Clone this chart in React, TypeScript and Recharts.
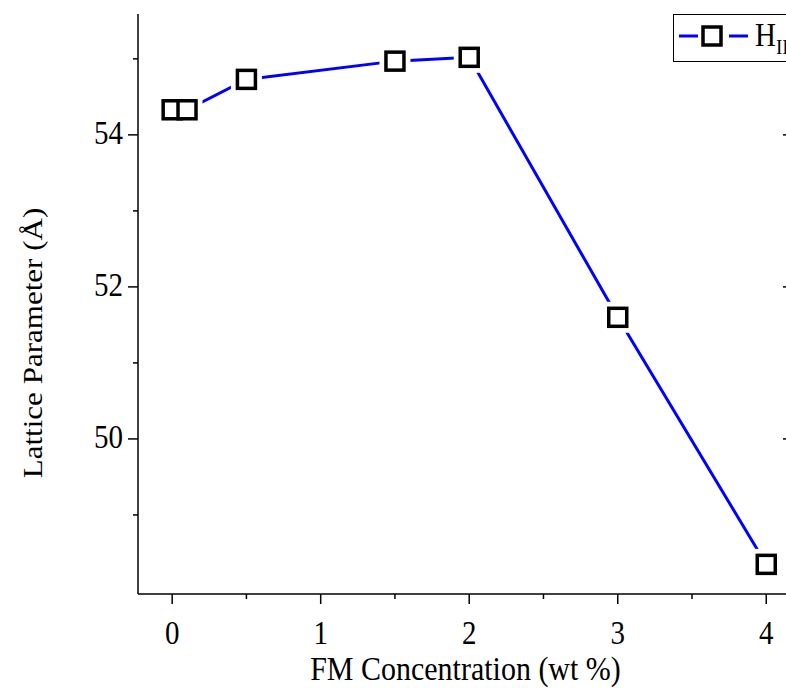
import React from 'react'
import { LineChart, Line, XAxis, YAxis, Legend } from 'recharts'

// FM concentration (wt %) and the measured H_II lattice parameter (Å)
const concentration = [0, 0.1, 0.5, 1.5, 2, 3, 4]
const latticeParam = [54.33, 54.33, 54.73, 54.97, 55.02, 51.6, 48.35]

const xTicks = [0, 0.5, 1, 1.5, 2, 2.5, 3, 3.5, 4]
const yTicks = [49, 50, 51, 52, 53, 54, 55]
const xDomain = [-0.23, 4.18]
const yDomain = [47.96, 55.59]

const data = concentration.map((c, i) => ({ c, v: latticeParam[i] }))

const FONT = '"Liberation Serif", "Times New Roman", serif'
const STRETCH = 1.15

const isMajorX = (v: number) => Number.isInteger(v)
const isMajorY = (v: number) => v % 2 === 0

function BottomTick(props: any) {
  const { x, y, payload } = props
  const major = isMajorX(payload.value)
  return (
    <g>
      <line x1={x} x2={x} y1={y} y2={y + (major ? 10 : 5)} stroke="#000" strokeWidth={1.5} />
      {major && (
        <text
          transform={`translate(${x},${y + 50}) scale(1,${STRETCH})`}
          textAnchor="middle"
          fontFamily={FONT}
          fontSize={29}
          fill="#000"
        >
          {payload.value}
        </text>
      )}
    </g>
  )
}

function TopTick(props: any) {
  const { x, y, payload } = props
  const major = isMajorX(payload.value)
  return <line x1={x} x2={x} y1={y} y2={y + (major ? 10 : 5)} stroke="#000" strokeWidth={1.5} />
}

function LeftTick(props: any) {
  const { x, y, payload } = props
  const major = isMajorY(payload.value)
  return (
    <g>
      <line x1={x} x2={x - (major ? 10 : 5)} y1={y} y2={y} stroke="#000" strokeWidth={1.5} />
      {major && (
        <text
          transform={`translate(${x - 15},${y + 9}) scale(1,${STRETCH})`}
          textAnchor="end"
          fontFamily={FONT}
          fontSize={29}
          fill="#000"
        >
          {payload.value}
        </text>
      )}
    </g>
  )
}

function RightTick(props: any) {
  const { x, y, payload } = props
  const major = isMajorY(payload.value)
  return <line x1={x} x2={x - (major ? 10 : 5)} y1={y} y2={y} stroke="#000" strokeWidth={1.5} />
}

function XTitle(props: any) {
  const { viewBox } = props
  const cx = viewBox.x + viewBox.width / 2
  return (
    <text
      transform={`translate(${cx},${viewBox.y + 86}) scale(1,${STRETCH})`}
      textAnchor="middle"
      fontFamily={FONT}
      fontSize={30}
      fill="#000"
    >
      FM Concentration (wt %)
    </text>
  )
}

function YTitle(props: any) {
  const { viewBox } = props
  const cy = viewBox.y + viewBox.height / 2 + 39
  return (
    <text
      transform={`translate(42,${cy}) rotate(-90) scale(${STRETCH},1)`}
      textAnchor="middle"
      fontFamily={FONT}
      fontSize={27}
      fill="#000"
    >
      Lattice Parameter (Å)
    </text>
  )
}

// Open square marker
function SquareDot(props: any) {
  const { cx, cy } = props
  if (cx == null || cy == null) return null
  return <rect x={cx - 9} y={cy - 9} width={18} height={18} fill="#fff" stroke="#000" strokeWidth={3.5} />
}

// White backing that leaves a small gap between the line and each marker
function GapDot(props: any) {
  const { cx, cy } = props
  if (cx == null || cy == null) return null
  return <rect x={cx - 15.5} y={cy - 15.5} width={31} height={31} fill="#fff" />
}

function LegendBox() {
  return (
    <div
      style={{
        border: '1px solid #000',
        background: '#fff',
        width: 140,
        height: 48,
        boxSizing: 'border-box',
      }}
    >
      <svg width={140} height={52} style={{ overflow: 'visible' }}>
        <line x1={5} x2={24} y1={21} y2={21} stroke="#0000ff" strokeWidth={3} />
        <rect x={29} y={12} width={18} height={18} fill="#fff" stroke="#000" strokeWidth={3.5} />
        <line x1={55} x2={74} y1={21} y2={21} stroke="#0000ff" strokeWidth={3} />
        <text transform={`translate(81,31) scale(1,${STRETCH})`} fontFamily={FONT} fontSize={29} fill="#000">
          H
          <tspan fontSize={19} dy={7}>II</tspan>
        </text>
      </svg>
    </div>
  )
}

export default function App() {
  return (
    <div
      style={{
        position: 'fixed',
        left: 0,
        top: 0,
        width: 786,
        height: 688,
        overflow: 'hidden',
        background: '#fff',
      }}
    >
      <LineChart width={800} height={688} data={data} margin={{ top: 14, right: 0, bottom: 0, left: 0 }}>
        <XAxis
          dataKey="c"
          type="number"
          domain={xDomain}
          ticks={xTicks}
          allowDataOverflow
          height={94}
          tickSize={0}
          tickMargin={0}
          tickLine={false}
          tick={<BottomTick />}
          axisLine={{ stroke: '#000', strokeWidth: 1.5 }}
          label={<XTitle />}
        />
        <XAxis
          xAxisId="t"
          orientation="top"
          dataKey="c"
          type="number"
          domain={xDomain}
          ticks={xTicks}
          allowDataOverflow
          height={0}
          tickSize={0}
          tickMargin={0}
          tickLine={false}
          tick={<TopTick />}
          axisLine={{ stroke: '#000', strokeWidth: 1.5 }}
        />
        <YAxis
          type="number"
          domain={yDomain}
          ticks={yTicks}
          allowDataOverflow
          width={138}
          tickSize={0}
          tickMargin={0}
          tickLine={false}
          tick={<LeftTick />}
          axisLine={{ stroke: '#000', strokeWidth: 1.5 }}
          label={<YTitle />}
        />
        <YAxis
          yAxisId="r"
          orientation="right"
          type="number"
          domain={yDomain}
          ticks={yTicks}
          allowDataOverflow
          width={7}
          tickSize={0}
          tickMargin={0}
          tickLine={false}
          tick={<RightTick />}
          axisLine={{ stroke: '#000', strokeWidth: 1.5 }}
        />
        <Legend
          layout="vertical"
          align="center"
          verticalAlign="middle"
          content={<LegendBox />}
          wrapperStyle={{ top: 14, left: 673, width: 140 }}
        />
        <Line
          dataKey="v"
          stroke="#0000ff"
          strokeWidth={3}
          dot={false}
          activeDot={false}
          isAnimationActive={false}
        />
        <Line
          dataKey="v"
          xAxisId="t"
          yAxisId="r"
          stroke="none"
          dot={<GapDot />}
          activeDot={false}
          legendType="none"
          isAnimationActive={false}
        />
        <Line
          dataKey="v"
          stroke="none"
          dot={<SquareDot />}
          activeDot={false}
          legendType="none"
          isAnimationActive={false}
        />
      </LineChart>
    </div>
  )
}
